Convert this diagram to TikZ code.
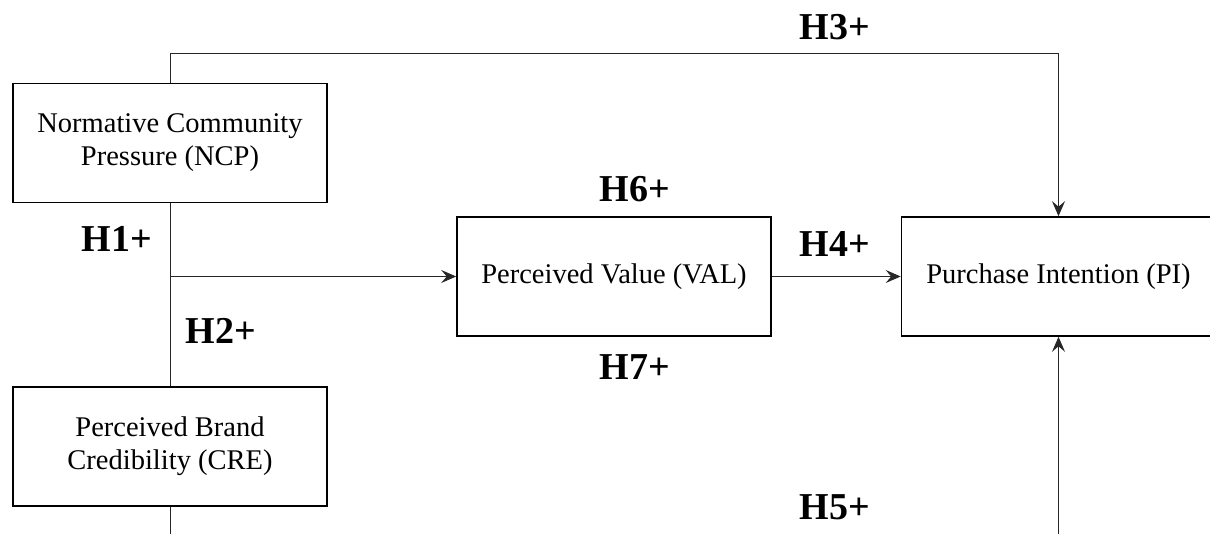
\documentclass[tikz,border=0pt]{standalone}
\usepackage{fontspec}
\setmainfont{Liberation Serif}
\usetikzlibrary{arrows.meta}
\begin{document}
\begin{tikzpicture}[x=1pt,y=-1pt,
  box/.style={draw=black, line width=1.6pt, minimum width=314pt, minimum height=119pt,
              inner sep=0pt, align=center, font=\fontsize{28.5}{33}\selectfont},
  hyp/.style={anchor=base, font=\fontsize{38}{40}\selectfont\bfseries, inner sep=0pt},
  conn/.style={draw=black!85, line width=1pt},
  arr/.style={conn, -{Stealth[length=15pt,width=13pt,inset=5.5pt]}}]
\useasboundingbox (0,0) rectangle (1210,534);
\clip (0,0) rectangle (1210,534);
\node[box] (ncp) at (170,143) {Normative Community\\Pressure (NCP)};
\node[box] (cre) at (170,446.5) {Perceived Brand\\Credibility (CRE)};
\node[box] (val) at (614,276.5) {Perceived Value (VAL)};
\node[box] (pi) at (1058.5,276.5) {Purchase Intention (PI)};
\coordinate (j) at (ncp.south |- val.west);
\draw[conn] (ncp.south) -- (cre.north);
\draw[arr] (j) -- (val.west);
\draw[arr] (ncp.north) -- ++(0,-29) -| (pi.north);
\draw[arr] (val.east) -- (pi.west);
\draw[arr] (cre.south) -- ++(0,60) -| (pi.south);
\node[hyp] (h3) at (835,40) {H3+};
\node[hyp] (h1) at (117,252) {H1+};
\node[hyp] (h2) at (221,344) {H2+};
\node[hyp] (h6) at (635,202) {H6+};
\node[hyp] (h7) at (635,380) {H7+};
\node[hyp] (h4) at (835,257) {H4+};
\node[hyp] (h5) at (835,519) {H5+};
\end{tikzpicture}
\end{document}
